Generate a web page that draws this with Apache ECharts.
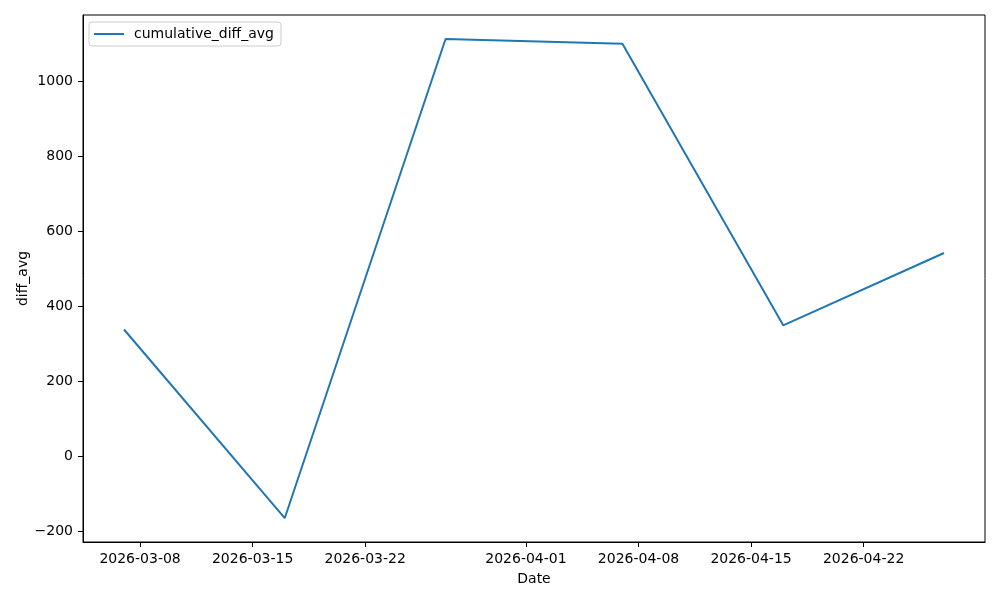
<!DOCTYPE html>
<html>
<head>
<meta charset="utf-8">
<script src="https://cdn.jsdelivr.net/npm/echarts@6/dist/echarts.min.js"></script>
<style>
html,body{margin:0;padding:0;background:#fff;}
#chart{width:1000px;height:600px;}
</style>
</head>
<body>
<div id="chart"></div>
<script>
// Data
var dates = ["2026-03-07", "2026-03-17", "2026-03-27", "2026-04-07", "2026-04-17", "2026-04-27"];
var cumulativeDiffAvg = [338, -165, 1113, 1100, 349, 542];
var xTickDates = ["2026-03-08", "2026-03-15", "2026-03-22", "2026-04-01", "2026-04-08", "2026-04-15", "2026-04-22"];
var yTicks = [-200, 0, 200, 400, 600, 800, 1000];
var seriesName = "cumulative_diff_avg";

var xs = dates.map(function (d) { return Date.parse(d); });
var xMin = Math.min.apply(null, xs), xMax = Math.max.apply(null, xs);
var xPad = (xMax - xMin) * 0.05;
var yMinD = Math.min.apply(null, cumulativeDiffAvg), yMaxD = Math.max.apply(null, cumulativeDiffAvg);
var yPad = (yMaxD - yMinD) * 0.05;
var xTickVals = xTickDates.map(function (d) { return Date.parse(d); });

function pad2(n) { return (n < 10 ? "0" : "") + n; }
function fmtDate(v) {
  var d = new Date(v);
  return d.getUTCFullYear() + "-" + pad2(d.getUTCMonth() + 1) + "-" + pad2(d.getUTCDate());
}

var font = "DejaVu Sans";
var chart = echarts.init(document.getElementById("chart"), null, { renderer: "canvas" });
chart.setOption({
  animation: false,
  backgroundColor: "#ffffff",
  textStyle: { fontFamily: font },
  grid: {
    left: 83, top: 15, width: 902, height: 527,
    show: true, borderColor: "#000", borderWidth: 1, backgroundColor: "transparent"
  },
  legend: {
    left: 89, top: 22,
    padding: [4, 7, 4, 5],
    borderColor: "#cccccc", borderWidth: 1, borderRadius: 3,
    backgroundColor: "rgba(255,255,255,0.8)",
    icon: "rect",
    itemWidth: 30, itemHeight: 2,
    textStyle: { fontFamily: font, fontSize: 14, color: "#000", padding: [0, 0, 0, 5], lineHeight: 16 },
    data: [seriesName]
  },
  xAxis: {
    type: "value",
    min: xMin - xPad, max: xMax + xPad,
    name: "Date", nameLocation: "middle", nameGap: 30, nameMoveOverlap: false,
    nameTextStyle: { fontFamily: font, fontSize: 14, color: "#000" },
    splitLine: { show: false },
    axisLine: { show: true, onZero: false, lineStyle: { color: "#000", width: 1 } },
    axisTick: { show: true, length: 5, lineStyle: { color: "#000" }, customValues: xTickVals },
    axisLabel: { fontFamily: font, fontSize: 14, color: "#000", margin: 10, customValues: xTickVals, formatter: fmtDate }
  },
  yAxis: {
    type: "value",
    min: yMinD - yPad, max: yMaxD + yPad,
    name: "diff_avg", nameLocation: "middle", nameGap: 53, nameMoveOverlap: false,
    nameTextStyle: { fontFamily: font, fontSize: 14, color: "#000" },
    splitLine: { show: false },
    axisLine: { show: true, onZero: false, lineStyle: { color: "#000", width: 1 } },
    axisTick: { show: true, length: 5, lineStyle: { color: "#000" }, customValues: yTicks },
    axisLabel: { fontFamily: font, fontSize: 14, color: "#000", margin: 10, customValues: yTicks,
      formatter: function (v) { return v < 0 ? "\u2212" + Math.abs(v) : String(v); } }
  },
  series: [{
    name: seriesName,
    type: "line",
    symbol: "none",
    lineStyle: { color: "#1f77b4", width: 2 },
    itemStyle: { color: "#1f77b4" },
    data: xs.map(function (x, i) { return [x, cumulativeDiffAvg[i]]; })
  }]
});
</script>
</body>
</html>
